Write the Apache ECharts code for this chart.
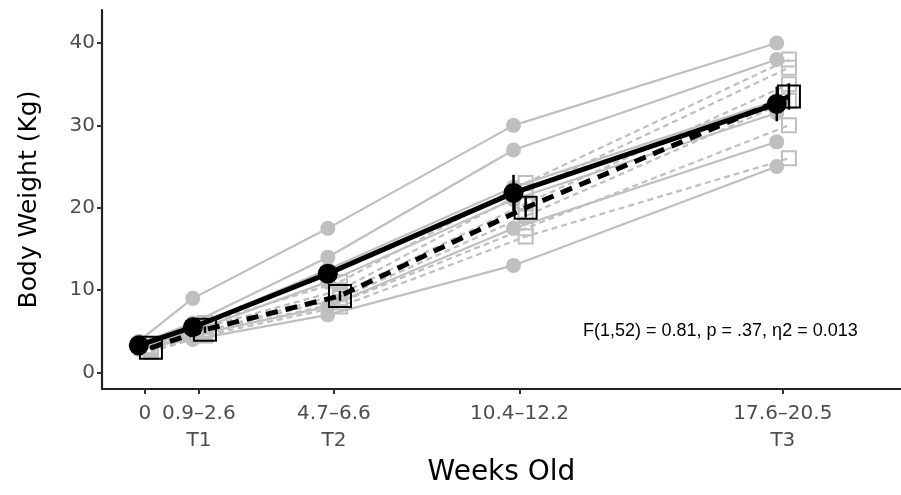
<!DOCTYPE html>
<html><head><meta charset="utf-8">
<script src="https://cdn.jsdelivr.net/npm/echarts@6/dist/echarts.min.js"></script>
<style>html,body{margin:0;padding:0;background:#fff}#c{width:901px;height:495px}</style>
</head><body><div id="c"></div>
<script>
// ---- data ----
const ageTicks = [0, 1.6, 5.6, 11.1, 18.9];
const tickLabels = ['0', '0.9–2.6\nT1', '4.7–6.6\nT2', '10.4–12.2', '17.6–20.5\nT3'];
const yTicks = [0, 10, 20, 30, 40];

// group A (solid lines, circles) individual subjects
const groupA = [
  [3.8, 9.0, 17.5, 30.0, 40.0],
  [3.5, 6.0, 14.0, 27.0, 38.0],
  [3.2, 5.5, 12.5, 22.5, 33.0],
  [3.0, 5.0, 11.0, 21.0, 31.5],
  [2.8, 4.5, 8.0, 17.5, 28.0],
  [3.0, 4.0, 7.0, 13.0, 25.0]
];
// group B (dashed lines, squares) individual subjects
const groupB = [
  [3.2, 6.0, 11.0, 23.0, 38.0],
  [3.0, 5.5, 10.0, 22.0, 37.0],
  [2.8, 5.0, 9.5, 20.5, 35.0],
  [3.0, 5.0, 9.0, 19.0, 33.0],
  [2.6, 4.8, 8.5, 17.5, 30.0],
  [2.5, 4.5, 8.0, 16.5, 26.0]
];
const meanA = [3.3, 5.5, 12.0, 21.8, 32.6];
const seA = [0.3, 0.6, 1.0, 2.2, 2.1];
const meanB = [3.0, 5.2, 9.3, 20.0, 33.5];
const seB = [0.2, 0.4, 0.6, 1.2, 1.6];
const statText = 'F(1,52) = 0.81, p = .37, η2 = 0.013';

// ---- build ----
const dodge = 0.18;
const FONT = '"Liberation Sans", Arial, Helvetica, sans-serif';
const WIDE = '"DejaVu Sans", "Liberation Sans", sans-serif';
const grey = '#bfbfbf';
const pts = (vals, off) => vals.map((v, i) => [ageTicks[i] + off, v]);
const series = [];
groupA.forEach(s => series.push({
  type: 'line', data: pts(s, -dodge), symbol: 'circle', symbolSize: 15,
  itemStyle: {color: grey}, lineStyle: {color: grey, width: 2.2}, z: 2, silent: true, animation: false
}));
groupB.forEach(s => series.push({
  type: 'line', data: pts(s, dodge), symbol: 'rect', symbolSize: 14,
  itemStyle: {color: 'rgba(0,0,0,0)', borderColor: grey, borderWidth: 2},
  lineStyle: {color: grey, width: 2.2, type: [6, 4]}, z: 2, silent: true, animation: false
}));
const errSeries = (mean, se, off) => ({
  type: 'custom', z: 6, silent: true, animation: false,
  data: mean.map((m, i) => [ageTicks[i] + off, m - se[i], m + se[i]]),
  renderItem: (params, api) => {
    const a = api.coord([api.value(0), api.value(1)]);
    const b = api.coord([api.value(0), api.value(2)]);
    return {type: 'line', shape: {x1: a[0], y1: a[1], x2: b[0], y2: b[1]},
      style: {stroke: '#000', lineWidth: 2.5}};
  }
});
series.push({
  type: 'line', data: pts(meanB, dodge), symbol: 'rect', symbolSize: 22,
  itemStyle: {color: 'rgba(0,0,0,0)', borderColor: '#000', borderWidth: 2},
  lineStyle: {color: '#000', width: 5, type: [12, 8]}, z: 5, silent: true, animation: false
});
series.push(errSeries(meanB, seB, dodge));
series.push({
  type: 'line', data: pts(meanA, -dodge), symbol: 'circle', symbolSize: 20,
  itemStyle: {color: '#000'}, lineStyle: {color: '#000', width: 5}, z: 7, silent: true, animation: false
});
series.push(errSeries(meanA, seA, -dodge));

const chart = echarts.init(document.getElementById('c'), null, {renderer: 'canvas'});
chart.setOption({
  animation: false,
  backgroundColor: '#fff',
  grid: {left: 102, right: 0, top: 10, bottom: 106},
  xAxis: {
    type: 'value', min: -1.27, max: 22.4,
    name: 'Weeks Old', nameLocation: 'middle', nameGap: 68,
    nameTextStyle: {fontFamily: WIDE, fontSize: 28, color: '#000'},
    axisLine: {show: true, onZero: false, lineStyle: {color: '#222', width: 2.2}},
    axisTick: {show: true, customValues: ageTicks, length: 5, lineStyle: {color: '#333', width: 2}},
    axisLabel: {customValues: ageTicks, fontFamily: WIDE, fontSize: 20, color: '#4d4d4d', margin: 11, lineHeight: 27,
      formatter: v => { const i = ageTicks.findIndex(t => Math.abs(t - v) < 1e-6); return i >= 0 ? tickLabels[i] : ''; }},
    splitLine: {show: false}
  },
  yAxis: {
    type: 'value', min: -2, max: 44,
    name: 'Body Weight (Kg)', nameLocation: 'middle', nameGap: 60,
    nameTextStyle: {fontFamily: WIDE, fontSize: 25, color: '#000'},
    axisLine: {show: true, onZero: false, lineStyle: {color: '#222', width: 2.2}},
    axisTick: {show: true, customValues: yTicks, length: 5, lineStyle: {color: '#333', width: 2}},
    axisLabel: {customValues: yTicks, fontFamily: WIDE, fontSize: 20, color: '#4d4d4d', margin: 7},
    splitLine: {show: false}
  },
  graphic: [{
    type: 'text', left: 583, top: 322,
    style: {text: statText, fontFamily: FONT, fontSize: 18, fill: '#000'}
  }],
  series: series
});
</script></body></html>
